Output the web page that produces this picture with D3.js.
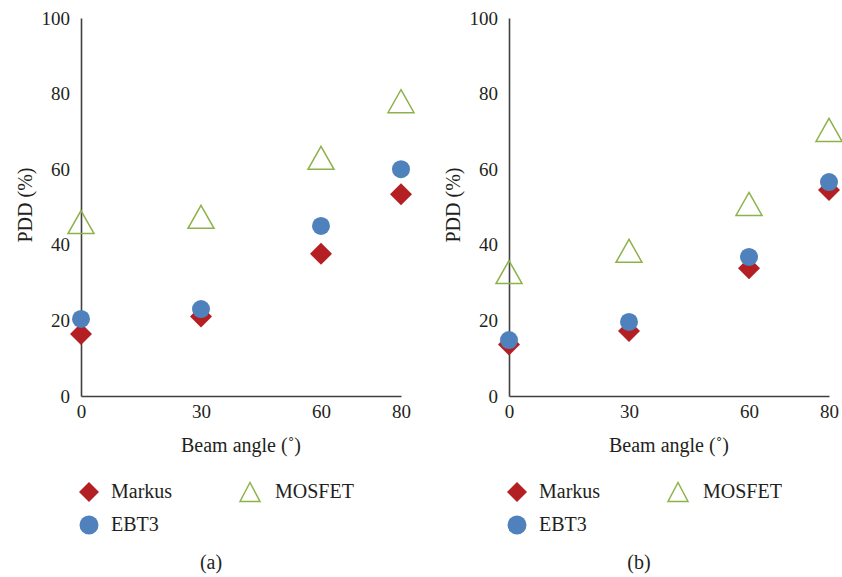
<!DOCTYPE html>
<html>
<head>
<meta charset="utf-8">
<script src="https://cdn.jsdelivr.net/npm/d3@7"></script>
<style>
  body { margin: 0; background: #fff; }
</style>
</head>
<body>
<div id="chart"></div>
<script>
// beam angles on the x axis
const angles = [0, 30, 60, 80];
const yTicks = [0, 20, 40, 60, 80, 100];

// panel (a)
const markusA = [16.4, 21, 37.6, 53.4];
const ebt3A = [20.4, 23, 45, 60];
const mosfetA = [46, 47.4, 63, 78];

// panel (b)
const markusB = [13.6, 17.2, 33.8, 54.5];
const ebt3B = [14.8, 19.6, 36.8, 56.6];
const mosfetB = [32.8, 38.4, 50.8, 70.4];

const seriesNames = ["Markus", "MOSFET", "EBT3"];
const panelLabels = ["(a)", "(b)"];

const red = "#b41f24", blue = "#4f81bd", green = "#8db24a";
const serif = "'Liberation Serif', 'DejaVu Serif', serif";

var svg = d3.select("#chart").append("svg")
  .attr("width", 842)
  .attr("height", 577);

function txt(g, x, y, s, size) {
  return g.append("text")
    .attr("x", x).attr("y", y)
    .style("font-family", serif)
    .style("font-size", size + "px")
    .style("fill", "#231f20")
    .text(s);
}

function diamond(g, cx, cy, s) {
  g.append("path")
    .attr("d", `M${cx},${cy - s}L${cx + s},${cy}L${cx},${cy + s}L${cx - s},${cy}Z`)
    .attr("fill", red);
}
function triangle(g, cx, cy, w, h) {
  g.append("path")
    .attr("d", `M${cx},${cy - h / 2}L${cx + w / 2},${cy + h / 2}L${cx - w / 2},${cy + h / 2}Z`)
    .attr("fill", "none")
    .attr("stroke", green)
    .attr("stroke-width", 1.5);
}
function dot(g, cx, cy, r) {
  g.append("circle").attr("cx", cx).attr("cy", cy).attr("r", r).attr("fill", blue);
}

function drawPanel(left, markus, ebt3, mosfet, label) {
  var g = svg.append("g");

  var x = d3.scaleLinear().domain([0, 80]).range([left, left + 320]);
  var y = d3.scaleLinear().domain([0, 100]).range([396, 18]);

  // Y axis
  var ya = g.append("g")
    .attr("transform", "translate(" + left + ",0)")
    .call(d3.axisLeft(y).tickValues(yTicks).tickSize(0).tickSizeOuter(0).tickPadding(11));
  ya.select(".domain").attr("stroke", "#404040").attr("stroke-width", 1.6);
  ya.selectAll("text").style("font-size", "19px").style("font-family", serif).style("fill", "#231f20");

  // X axis
  var xa = g.append("g")
    .attr("transform", "translate(0," + 396 + ")")
    .call(d3.axisBottom(x).tickValues(angles).tickSize(0).tickSizeOuter(0).tickPadding(9));
  xa.select(".domain").attr("stroke", "#404040").attr("stroke-width", 1.6);
  xa.selectAll("text").style("font-size", "19px").style("font-family", serif).style("fill", "#231f20");

  // axis titles
  txt(g, 0, 0, "PDD (%)", 20)
    .attr("transform", "translate(" + (left - 56) + ",205) rotate(-90)")
    .attr("text-anchor", "middle")
    .attr("dominant-baseline", "central");
  txt(g, left + 160, 452, "Beam angle (˚)", 20)
    .attr("text-anchor", "middle");

  // points
  angles.forEach(function (a, i) {
    triangle(g, x(a), y(mosfet[i]), 26, 23);
  });
  angles.forEach(function (a, i) {
    diamond(g, x(a), y(markus[i]), 11);
  });
  angles.forEach(function (a, i) {
    dot(g, x(a), y(ebt3[i]), 9);
  });

  // legend
  var lx = left + 8;
  diamond(g, lx, 492, 10);
  txt(g, lx + 22, 497.5, seriesNames[0], 20);
  triangle(g, lx + 161, 492, 20, 19);
  txt(g, lx + 186, 497.5, seriesNames[1], 20);
  dot(g, lx, 525, 9.5);
  txt(g, lx + 22, 531, seriesNames[2], 20);

  txt(g, left + 130, 569, label, 20).attr("text-anchor", "middle");
}

drawPanel(81, markusA, ebt3A, mosfetA, panelLabels[0]);
drawPanel(509, markusB, ebt3B, mosfetB, panelLabels[1]);
</script>
</body>
</html>
